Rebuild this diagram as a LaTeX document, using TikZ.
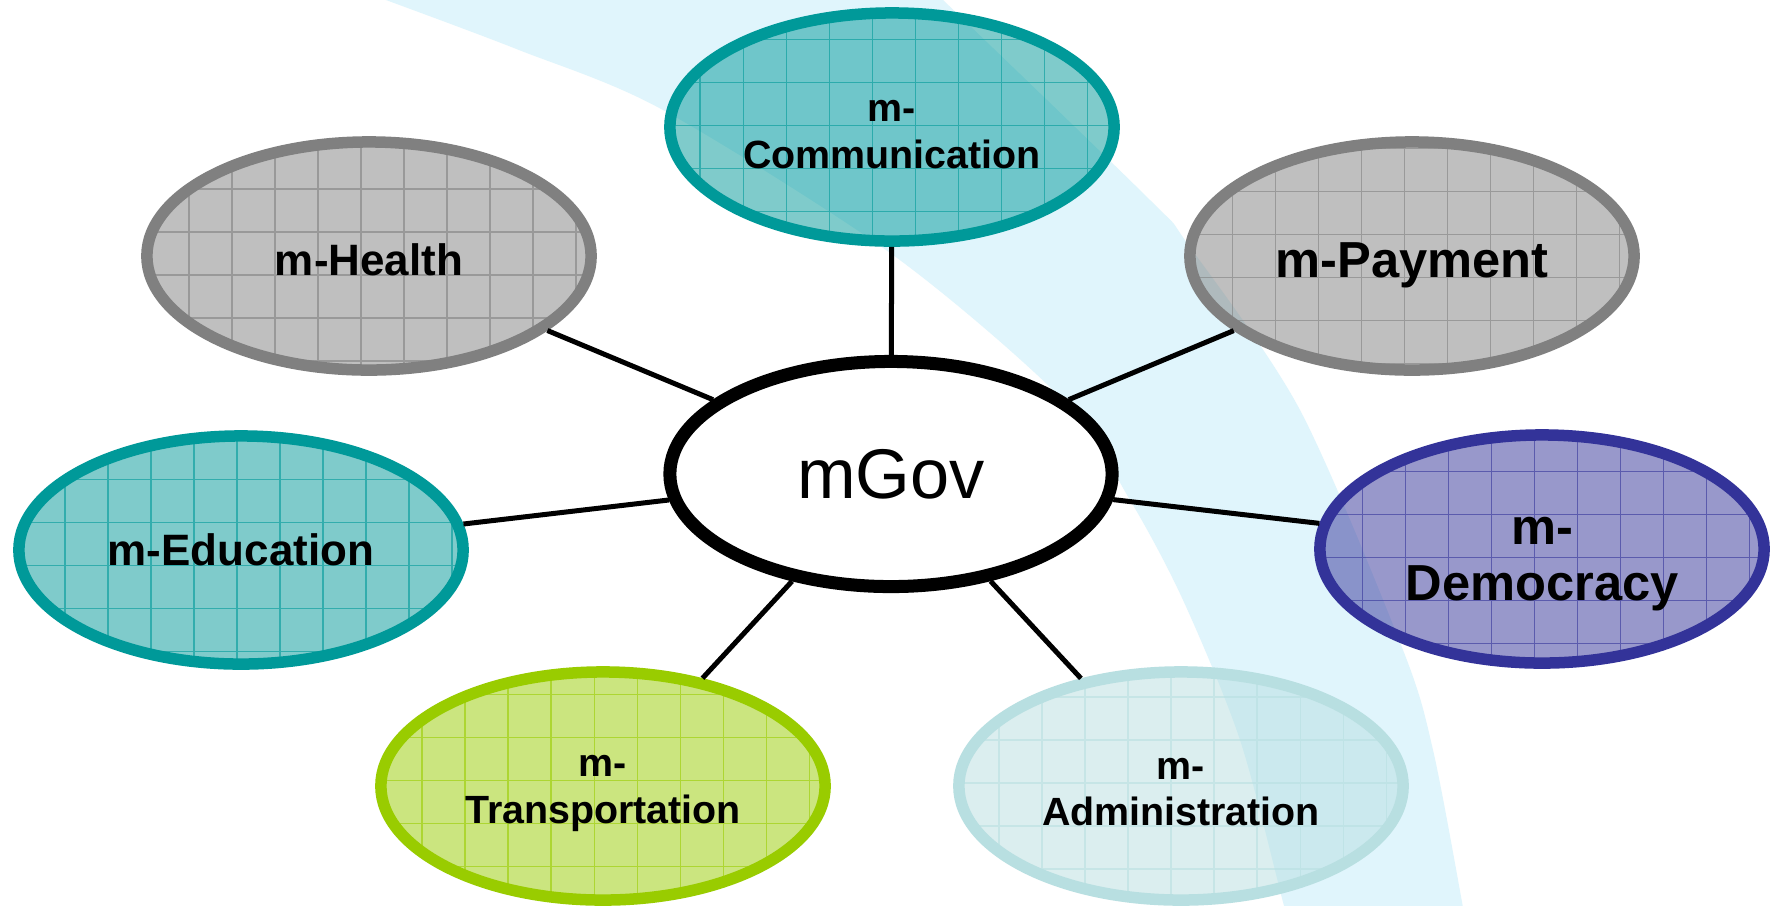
\documentclass[tikz,border=0pt]{standalone}
\usepackage{fontspec}
\setmainfont{Liberation Sans}
\usetikzlibrary{shapes.geometric}
\definecolor{bandcol}{RGB}{224,245,252}
\definecolor{mgray}{RGB}{128,128,128}
\definecolor{mteal}{RGB}{0,153,153}
\definecolor{mnavy}{RGB}{51,51,153}
\definecolor{mgreen}{RGB}{153,204,0}
\definecolor{mlight}{RGB}{184,223,225}
\newcommand\toppad[1]{\rule{0pt}{#1}}
\begin{document}
\begin{tikzpicture}[x=0.01cm,y=-0.01cm,
  sat/.style={ellipse, draw=#1, line width=0.115cm, fill=#1, fill opacity=0.5,
    text opacity=1, text=black, minimum width=4.44cm, minimum height=2.28cm,
    inner sep=0pt, align=center,
    path picture={\draw[#1, line width=0.4pt, draw opacity=0.6]
      (path picture bounding box.south west) grid[step=0.43cm]
      (path picture bounding box.north east);}},
  fbig/.style={font=\bfseries\fontsize{14.4}{15.8}\selectfont},
  fmid/.style={font=\bfseries\fontsize{12.5}{15}\selectfont},
  fsmall/.style={font=\bfseries\fontsize{11.2}{13.3}\selectfont},
  hub/.style={ellipse, draw=black, line width=0.13cm, fill=white,
    minimum width=4.42cm, minimum height=2.25cm, inner sep=0pt,
    font=\fontsize{20}{24}\selectfont},
  link/.style={line width=0.05cm, draw=black}]
\useasboundingbox (0,0) rectangle (1775,905);
\fill[white] (0,0) rectangle (1775,905);
\begin{scope}
\clip (0,0) rectangle (1775,905);
\fill[bandcol] plot[smooth] coordinates {(330,-20) (386,0) (519,50) (663,110) (893,255) (1063,400) (1130,500) (1183,600) (1240,740) (1283,902) (1292,935)}
  -- plot[smooth] coordinates {(1467,935) (1462,902) (1433,750) (1403,650) (1300,410) (1187,243) (1150,200) (943,0) (920,-20)} -- cycle;
\end{scope}
\node[hub] (gov) at (891,474) {mGov};
\node[sat=mgray, fmid] (health) at (369,256) {\toppad{11pt}m-Health};
\node[sat=mteal, fsmall] (comm) at (892,127) {\toppad{10.3pt}m-\\Communication};
\node[sat=mgray, fbig] (pay) at (1412,256) {\toppad{15.3pt}m-Payment};
\node[sat=mteal, fmid] (edu) at (241,550) {m-Education};
\node[sat=mnavy, fbig] (dem) at (1542,549) {\toppad{16.5pt}m-\\Democracy};
\node[sat=mgreen, fsmall] (trans) at (603,786) {\toppad{10.4pt}m-\\Transportation};
\node[sat=mlight, fsmall] (admin) at (1181,786) {\toppad{9.5pt}m-\\Administration};
\draw[link] (gov) -- (comm);
\draw[link] (gov) -- (health);
\draw[link] (gov) -- (pay);
\draw[link] (gov) -- (edu);
\draw[link] (gov) -- (dem);
\draw[link] (gov) -- (trans);
\draw[link] (gov) -- (admin);
\end{tikzpicture}
\end{document}
